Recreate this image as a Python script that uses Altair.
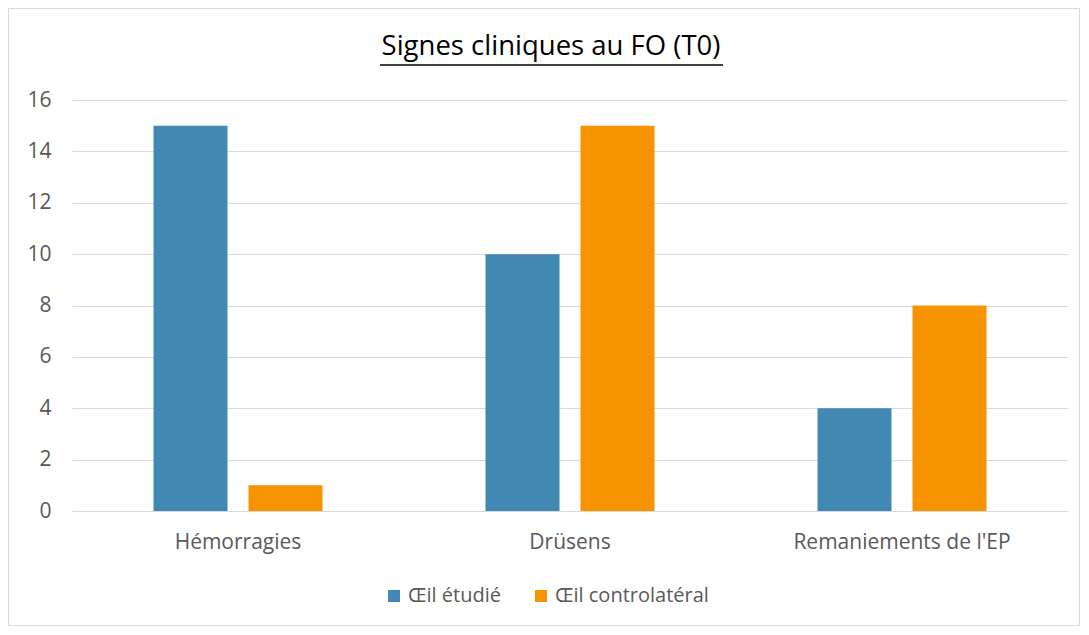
import altair as alt
import pandas as pd

categories = ["Hémorragies", "Drüsens", "Remaniements de l'EP"]
series = ["Œil étudié", "Œil controlatéral"]
values_etudie = [15, 10, 4]
values_contro = [1, 15, 8]
colors = ["#4189b3", "#f59300"]
title_text = "Signes cliniques au FO (T0)"

rows = []
for c, a, b in zip(categories, values_etudie, values_contro):
    rows.append({"cat": c, "serie": series[0], "val": a})
    rows.append({"cat": c, "serie": series[1], "val": b})
df = pd.DataFrame(rows)

W, H = 996, 411
PL, PT, PR, PB = 64, 92, 13, 116

font = "Open Sans"
fs = 21

bars = alt.Chart(df).mark_bar().encode(
    x=alt.X("cat:N", sort=categories, title=None,
            scale=alt.Scale(paddingInner=0, paddingOuter=0),
            axis=alt.Axis(labelAngle=0, labelFontSize=fs, labelColor="#595959",
                          labelFont=font, ticks=False, domain=False, labelPadding=20,
                          grid=False, labelLimit=0)),
    xOffset=alt.XOffset("serie:N", sort=series,
                        scale=alt.Scale(paddingInner=0.221, paddingOuter=0.858)),
    y=alt.Y("val:Q", title=None,
            scale=alt.Scale(domain=[0, 16]),
            axis=alt.Axis(values=list(range(0, 17, 2)), labelFontSize=fs,
                          labelColor="#595959", labelFont=font, ticks=False,
                          domain=False, labelPadding=21, gridColor="#d9d9d9",
                          gridWidth=1)),
    color=alt.Color("serie:N", sort=series,
                    scale=alt.Scale(domain=series, range=colors),
                    legend=alt.Legend(title=None, orient="none", direction="horizontal",
                                      legendX=312, legendY=486, symbolType="square",
                                      symbolSize=144, symbolStrokeWidth=0,
                                      labelFontSize=20, labelColor="#595959",
                                      labelFont=font, columnPadding=30,
                                      symbolOffset=0, labelOffset=4, labelLimit=0)),
)

title = alt.Chart(pd.DataFrame({"t": [title_text]})).mark_text(
    font=font, fontSize=27.5, color="#000000", align="center", baseline="middle"
).encode(text="t:N", x=alt.value(479), y=alt.value(-53))

underline = alt.Chart().mark_rule(color="#000000", strokeWidth=1.5).encode(
    x=alt.value(308), x2=alt.value(651), y=alt.value(-35)
)

border = alt.Chart().mark_rect(fill=None, stroke="#d9d9d9", strokeWidth=1).encode(
    x=alt.value(-PL + 0.5), x2=alt.value(W + PR - 1.5),
    y=alt.value(-PT + 0.5), y2=alt.value(H + PB - 1.5)
)

chart = alt.layer(border, bars, title, underline).properties(
    width=W, height=H,
    autosize=alt.AutoSizeParams(type="none"),
    padding={"left": PL, "top": PT, "right": PR, "bottom": PB},
    background="white",
).configure_view(strokeWidth=0, stroke="transparent")

chart.save("out.html", embed_options={"renderer": "svg", "actions": False})
